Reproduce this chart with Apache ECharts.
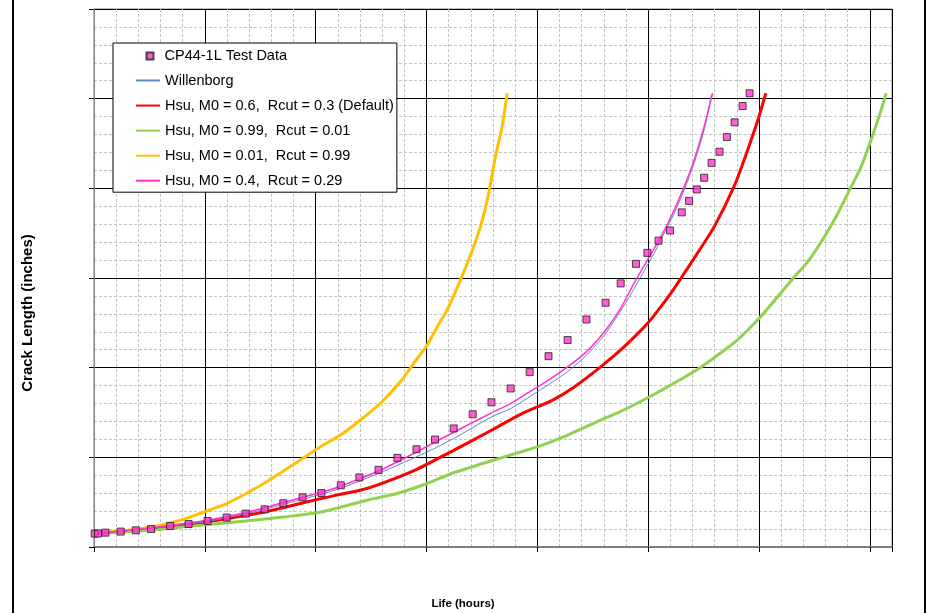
<!DOCTYPE html>
<html>
<head>
<meta charset="utf-8">
<script src="https://cdn.jsdelivr.net/npm/echarts@6/dist/echarts.min.js"></script>
<style>
html,body{margin:0;padding:0;background:#fff;}
#chart{width:926px;height:613px;}
</style>
</head>
<body>
<div id="chart"></div>
<script>
// Life (hours) vs crack length (inches)
var seriesNames = [
  "CP44-1L Test Data",
  "Willenborg",
  "Hsu, M0 = 0.6,  Rcut = 0.3 (Default)",
  "Hsu, M0 = 0.99,  Rcut = 0.01",
  "Hsu, M0 = 0.01,  Rcut = 0.99",
  "Hsu, M0 = 0.4,  Rcut = 0.29"
];
var xTicks = [0, 1000, 2000, 3000, 4000, 5000, 6000, 7000];
var yTicks = [0, 0.5, 1.0, 1.5, 2.0, 2.5, 3.0];

var testData = [
  [6,0.075],[36,0.075],[103,0.080],[241,0.086],[377,0.093],[515,0.100],[687,0.117],[853,0.128],
  [1025,0.145],[1197,0.164],[1369,0.186],[1540,0.210],[1708,0.244],[1882,0.277],[2052,0.301],
  [2227,0.344],[2395,0.388],[2567,0.430],[2738,0.497],[2910,0.545],[3077,0.599],[3245,0.661],
  [3417,0.740],[3586,0.807],[3759,0.884],[3931,0.975],[4101,1.064],[4273,1.154],[4443,1.269],
  [4616,1.362],[4752,1.470],[4890,1.579],[4993,1.640],[5094,1.708],[5197,1.765],[5303,1.866],
  [5369,1.930],[5439,1.994],[5505,2.059],[5572,2.142],[5644,2.204],[5710,2.286],[5780,2.368],
  [5852,2.459],[5915,2.530]
];
var willenborg = [
  [0,0.071],[241,0.086],[513,0.102],[684,0.115],[1025,0.143],[1369,0.185],[1708,0.238],
  [2049,0.294],[2221,0.327],[2567,0.410],[3005,0.530],[3245,0.605],[3586,0.725],[3758,0.772],
  [3999,0.865],[4270,0.976],[4442,1.069],[4616,1.191],[4812,1.376],[4933,1.506],[5053,1.637],
  [5143,1.748],[5234,1.860],[5324,1.990],[5414,2.139],[5505,2.325],[5570,2.520]
];
var hsuDefault = [
  [6,0.075],[519,0.097],[853,0.125],[1197,0.158],[1540,0.195],[1880,0.245],[2176,0.288],
  [2402,0.316],[2567,0.348],[2908,0.432],[3245,0.539],[3586,0.651],[3848,0.740],[4134,0.818],
  [4330,0.891],[4571,1.004],[4782,1.116],[4993,1.246],[5113,1.339],[5204,1.414],[5294,1.497],
  [5430,1.625],[5595,1.785],[5776,2.012],[5897,2.213],[5987,2.375],[6062,2.530]
];
var hsuM099 = [
  [6,0.075],[515,0.093],[853,0.115],[1369,0.145],[1708,0.167],[2049,0.195],[2462,0.261],
  [2733,0.298],[3005,0.354],[3245,0.414],[3586,0.481],[3848,0.530],[3999,0.558],[4270,0.623],
  [4571,0.707],[4752,0.756],[4962,0.821],[5113,0.871],[5294,0.935],[5475,1.002],[5656,1.083],
  [5807,1.155],[6002,1.275],[6168,1.395],[6318,1.506],[6439,1.590],[6589,1.729],[6711,1.860],
  [6831,2.008],[6921,2.120],[7011,2.269],[7102,2.436],[7147,2.530]
];
var hsuM001 = [
  [0,0.079],[241,0.089],[519,0.112],[687,0.134],[853,0.164],[1025,0.202],[1197,0.242],
  [1369,0.297],[1543,0.358],[1859,0.484],[2040,0.558],[2221,0.623],[2402,0.707],[2582,0.800],
  [2772,0.927],[2883,1.023],[3005,1.125],[3095,1.226],[3185,1.321],[3306,1.488],[3396,1.627],
  [3486,1.785],[3561,1.972],[3622,2.176],[3682,2.343],[3728,2.530]
];
var hsuM04 = [
  [0,0.074],[241,0.089],[513,0.106],[684,0.121],[1025,0.149],[1369,0.192],[1708,0.248],
  [2049,0.305],[2221,0.339],[2567,0.424],[2911,0.530],[3245,0.640],[3586,0.748],[3758,0.800],
  [3929,0.865],[4101,0.930],[4273,1.004],[4442,1.088],[4616,1.209],[4752,1.332],[4872,1.470],
  [4993,1.600],[5113,1.728],[5234,1.878],[5324,2.008],[5414,2.157],[5505,2.343],[5581,2.530]
];

var chart = echarts.init(document.getElementById('chart'), null, {renderer: 'canvas'});
var FONT = '"Liberation Sans", Arial, sans-serif';

function lineSeries(name, data, color, width, z) {
  return {
    name: name, type: 'line', data: data, symbol: 'none', smooth: 0.25,
    lineStyle: {color: color, width: width}, itemStyle: {color: color}, z: z,
    animation: false
  };
}

var axisCommon = {
  type: 'value',
  axisLabel: {show: false},
  axisTick: {show: true, inside: false, length: 5, lineStyle: {color: '#000', width: 1}},
  splitLine: {show: true, lineStyle: {color: '#000', width: 1}},
  minorTick: {show: true, splitNumber: 5, length: 0, lineStyle: {color: 'rgba(0,0,0,0)'}},
  minorSplitLine: {show: true, lineStyle: {color: '#c4c4c4', width: 1, type: [3, 2]}}
};

var option = {
  backgroundColor: '#fff',
  animation: false,
  grid: {left: 94, top: 9, width: 798, height: 538, show: true, borderColor: '#808080', borderWidth: 1, backgroundColor: 'transparent'},
  xAxis: Object.assign({}, axisCommon, {
    min: xTicks[0], max: 7200, interval: xTicks[1] - xTicks[0],
    axisLine: {show: true, onZero: false, lineStyle: {color: '#808080', width: 2}}
  }),
  yAxis: Object.assign({}, axisCommon, {
    min: yTicks[0], max: yTicks[yTicks.length - 1], interval: yTicks[1] - yTicks[0],
    axisLine: {show: true, onZero: false, lineStyle: {color: '#808080', width: 1}}
  }),
  legend: [
    {
      data: seriesNames.slice(1),
      orient: 'vertical', left: 113, top: 43,
      padding: [30, 3, 4, 22],
      itemWidth: 24, itemHeight: 14, itemGap: 10.05,
      itemStyle: {opacity: 0},
      backgroundColor: '#fff', borderColor: '#000', borderWidth: 1,
      textStyle: {fontFamily: FONT, fontSize: 14.5, color: '#000'},
      selectedMode: false, z: 10
    },
    {
      data: [seriesNames[0]],
      orient: 'vertical', left: 145.5, top: 48.5,
      padding: 0, itemWidth: 7, itemHeight: 7,
      textStyle: {fontFamily: FONT, fontSize: 14.5, color: '#000', padding: [0, 0, 0, 6]},
      selectedMode: false, z: 11
    }
  ],
  graphic: [
    {type: 'rect', shape: {x: 13, y: -10, width: 912, height: 640}, style: {fill: 'none', stroke: '#000', lineWidth: 2}, silent: true, z: -1},
    {type: 'text', x: 28, y: 313, rotation: Math.PI / 2,
      style: {text: 'Crack Length (inches)', fontFamily: FONT, fontSize: 15, fontWeight: 'bold', fill: '#000', align: 'center', verticalAlign: 'middle'}},
    {type: 'text', x: 463, y: 604,
      style: {text: 'Life (hours)', fontFamily: FONT, fontSize: 11.5, fontWeight: 'bold', fill: '#000', align: 'center', verticalAlign: 'middle'}}
  ],
  series: [
    {
      name: seriesNames[0], type: 'scatter', data: testData, symbol: 'rect', symbolSize: 7,
      itemStyle: {color: '#FF33CC', borderColor: '#222', borderWidth: 1}, z: 20, animation: false
    },
    lineSeries(seriesNames[1], willenborg, '#5E86C4', 1, 4),
    lineSeries(seriesNames[2], hsuDefault, '#FF0000', 3, 3),
    lineSeries(seriesNames[3], hsuM099, '#92D050', 3, 3),
    lineSeries(seriesNames[4], hsuM001, '#FFC000', 3, 3),
    lineSeries(seriesNames[5], hsuM04, '#FF33CC', 1.5, 5)
  ]
};
chart.setOption(option);
</script>
</body>
</html>
